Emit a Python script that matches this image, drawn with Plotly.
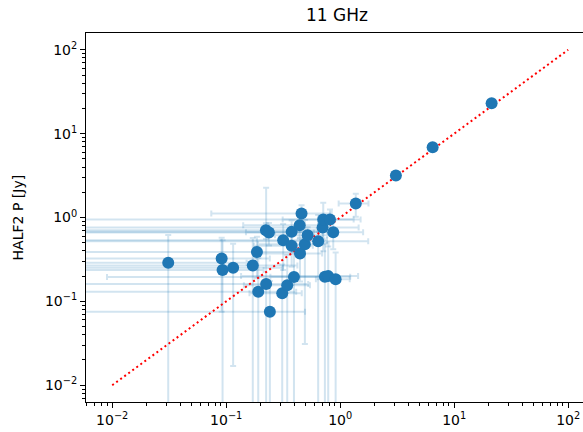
import plotly.graph_objects as go

# --- data ---
x_vals = [0.031, 0.0912, 0.0929, 0.115, 0.171, 0.186, 0.223, 0.237, 0.224, 0.191,
          0.2415, 0.310, 0.343, 0.393, 0.316, 0.375, 0.375, 0.441, 0.458, 0.444,
          0.490, 0.518, 0.641, 0.701, 0.710, 0.813, 0.869, 0.734, 0.785, 0.912,
          1.37, 3.08, 6.47, 21.3]
y_vals = [0.288, 0.325, 0.236, 0.251, 0.268, 0.389, 0.706, 0.662, 0.161, 0.130,
          0.0752, 0.125, 0.156, 0.195, 0.537, 0.674, 0.459, 0.809, 1.117, 0.373,
          0.481, 0.615, 0.522, 0.760, 0.946, 0.946, 0.668, 0.197, 0.200, 0.183,
          1.47, 3.16, 6.87, 23.1]
x_err = [0.12, 0.15, 0.12, 0.20, 0.25, 0.30, 0.40, 0.35, 0.30, 0.22,
         0.25, 0.15, 0.20, 0.384, 0.45, 0.50, 0.20, 0.30, 0.384, 0.25,
         0.30, 0.25, 1.12, 0.75, 0.80, 0.50, 0.72, 0.49, 0.65, 0.30,
         0.40, 0.15, 0.30, 1.0]
y_err = [0.33, 0.25, 0.30, 0.234, 0.30, 0.20, 0.15, 0.20, 2.1, 0.20,
         0.10, 0.15, 0.20, 0.20, 0.30, 0.25, 0.20, 0.25, 0.28, 0.20,
         0.45, 0.15, 0.55, 0.20, 0.55, 0.30, 0.25, 0.30, 0.25, 0.20,
         0.45, 0.15, 0.30, 1.0]
line_x = [0.01, 100]
line_y = [0.01, 100]

title_text = "11 GHz"
y_label = "HALF2 P [Jy]"
major_vals = [0.01, 0.1, 1, 10, 100]
major_text = ["10<sup>−2</sup>", "10<sup>−1</sup>", "10<sup>0</sup>", "10<sup>1</sup>", "10<sup>2</sup>"]
minor_vals = [k * 10 ** n for n in range(-3, 3) for k in range(2, 10)]

blue = "#1f77b4"
font = "DejaVu Sans"

fig = go.Figure()
# error bars
fig.add_trace(go.Scatter(
    x=x_vals, y=y_vals, mode="markers",
    marker=dict(color="rgba(0,0,0,0)", size=1),
    error_x=dict(type="data", array=x_err, color="rgba(31,119,180,0.2)", thickness=2, width=3),
    error_y=dict(type="data", array=y_err, color="rgba(31,119,180,0.2)", thickness=2, width=3),
    hoverinfo="skip", showlegend=False))
# 1:1 line
fig.add_trace(go.Scatter(
    x=line_x, y=line_y, mode="lines",
    line=dict(color="red", width=2, dash="2px,3px"),
    hoverinfo="skip", showlegend=False))
# markers
fig.add_trace(go.Scatter(
    x=x_vals, y=y_vals, mode="markers",
    marker=dict(color=blue, size=12, line=dict(width=0)),
    showlegend=False))

axis_common = dict(
    type="log", showgrid=False, zeroline=False,
    showline=True, linecolor="black", linewidth=1,
    ticks="outside", ticklen=5, tickwidth=1, tickcolor="black",
    tickmode="array", tickvals=major_vals, ticktext=major_text,
    tickfont=dict(family=font, size=14, color="black"),
    minor=dict(tickmode="array", tickvals=minor_vals, ticks="outside",
               ticklen=3, tickwidth=1, tickcolor="black", showgrid=False),
)

fig.update_layout(
    width=583, height=432,
    margin=dict(l=86, r=0, t=33, b=30, autoexpand=False),
    paper_bgcolor="white", plot_bgcolor="white",
    font=dict(family=font, color="black"),
    title=dict(text=title_text, x=0.505, xref="paper", xanchor="center",
               y=1 - 15 / 432, yref="container", yanchor="middle",
               font=dict(family=font, size=17, color="black")),
    xaxis=dict(range=[-2.23, 2.13], mirror=True, automargin=False, **axis_common),
    yaxis=dict(range=[-2.2, 2.2], mirror=False, automargin=False, **axis_common),
    annotations=[dict(text=y_label, xref="paper", yref="paper", x=-0.137, y=0.5,
                      xanchor="center", yanchor="middle", textangle=-90, showarrow=False,
                      font=dict(family=font, size=14, color="black"))],
)

fig.write_html("out.html", config={"displayModeBar": False},
               post_script="document.body.style.margin='0';document.body.style.overflow='hidden';")
